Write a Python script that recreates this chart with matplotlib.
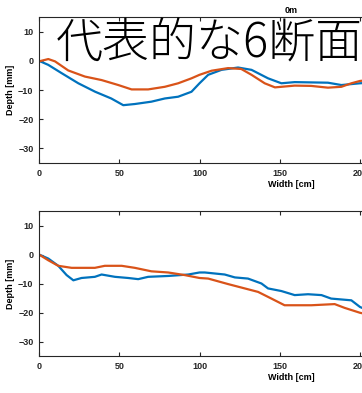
import matplotlib
matplotlib.use("Agg")
import matplotlib.pyplot as plt
from matplotlib.font_manager import FontProperties

# Cross-section profiles: width [cm] vs depth [mm]
top_blue_x = [0, 5.8, 14, 24.5, 35, 45, 52.5, 59.7, 70, 78.4, 86.7, 95, 100, 105.4,
              113.7, 124, 132.4, 142.7, 151, 159.3, 180, 188.4, 200, 206]
top_blue_y = [0, -1.4, -4.2, -7.7, -10.6, -12.9, -15.2, -14.8, -14.0, -12.9, -12.3, -10.6,
              -7.7, -4.8, -3.1, -2.3, -3.1, -6.0, -7.7, -7.3, -7.5, -8.3, -7.7, -7.5]

top_orange_x = [0, 5.8, 10, 18.2, 28.6, 39, 49.4, 57.7, 68, 78.4, 86.7, 95, 100, 107.5,
                117.8, 126, 132.4, 140.6, 147, 159.3, 169.6, 180, 188.4, 194.6, 200, 206]
top_orange_y = [-0.2, 0.6, -0.2, -3.3, -5.4, -6.6, -8.3, -9.8, -9.8, -8.9, -7.7, -6.0, -4.8,
                -3.4, -2.5, -2.8, -4.8, -7.7, -9.1, -8.5, -8.6, -9.2, -8.9, -7.7, -6.9, -6.6]

bot_blue_x = [0, 5.8, 12, 17.2, 21.4, 26.5, 34.8, 39, 47.3, 55.6, 61.8, 68, 80.5, 93, 100,
              103.3, 115.7, 122, 130.2, 138.6, 142.7, 151, 159.3, 167.6, 176, 182, 194.6,
              200, 206]
bot_blue_y = [0, -1.4, -3.9, -7.1, -8.9, -8.1, -7.7, -6.9, -7.7, -8.1, -8.5, -7.7, -7.4,
              -6.9, -6.2, -6.2, -6.9, -7.9, -8.3, -10.0, -11.7, -12.6, -14.0, -13.7, -14.0,
              -15.2, -15.8, -18.1, -19.5]

bot_orange_x = [0, 5.8, 12, 20.3, 34.8, 41, 51.5, 59.7, 70, 80.5, 90.8, 100, 105.4, 117.8,
                128.2, 136.5, 144.8, 153, 169.7, 184.2, 190.4, 200, 206]
bot_orange_y = [0, -2.0, -3.9, -4.6, -4.6, -3.9, -3.9, -4.6, -5.8, -6.2, -7.1, -8.1, -8.3,
                -10.2, -11.7, -12.9, -15.2, -17.5, -17.5, -17.1, -18.4, -20.1, -20.8]

xticks = [0, 50, 100, 150, 200, 250, 300]
yticks = [-30, -20, -10, 0, 10]

BLUE = "#0072BD"
ORANGE = "#D95319"
TICK_FONT = dict(family="Liberation Sans", weight="bold", size=6.5)

W, H = 362, 393
fig = plt.figure(figsize=(W / 100, H / 100), dpi=100)


def make_axes(rect, bx, by, ox, oy, title=None):
    ax = fig.add_axes(rect)
    ax.plot(bx, by, color=BLUE, lw=1.6)
    ax.plot(ox, oy, color=ORANGE, lw=1.6)
    ax.set_xlim(0, 314)
    ax.set_ylim(-35, 15)
    ax.set_xticks(xticks)
    ax.set_yticks(yticks)
    ax.tick_params(direction="in", top=True, right=True, length=3, width=0.8,
                   colors="#262626", pad=4)
    for lab in ax.get_xticklabels() + ax.get_yticklabels():
        lab.set_fontproperties(FontProperties(**TICK_FONT))
    for s in ax.spines.values():
        s.set_color("#262626")
        s.set_linewidth(0.8)
    ax.set_xlabel("Width [cm]", fontdict=TICK_FONT, labelpad=2)
    ax.set_ylabel("Depth [mm]", fontdict=TICK_FONT, labelpad=2)
    if title:
        ax.set_title(title, fontdict=TICK_FONT, pad=3)
    return ax


make_axes([39 / W, 1 - 163 / H, 504 / W, 146 / H],
          top_blue_x, top_blue_y, top_orange_x, top_orange_y, title="0m")
make_axes([39 / W, 1 - 356 / H, 504 / W, 145 / H],
          bot_blue_x, bot_blue_y, bot_orange_x, bot_orange_y)

fig.text(56 / W, 1 - 44 / H, "代表的な6断面", fontsize=33.8,
         family=["Noto Sans CJK JP", "DejaVu Sans"], weight="light",
         va="center", ha="left", color="black")

fig.savefig("out.png", dpi=100)
